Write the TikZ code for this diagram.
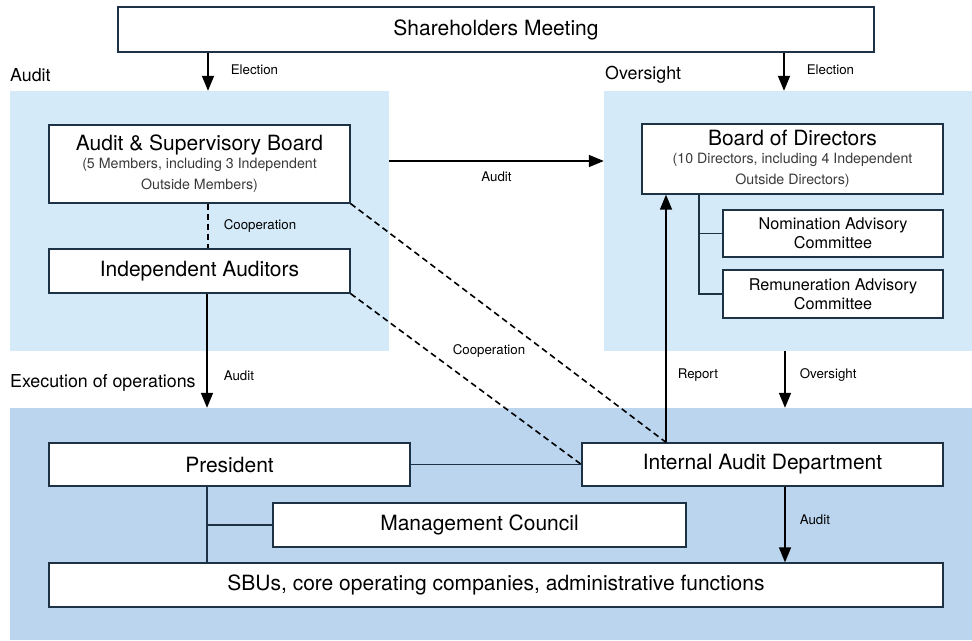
\documentclass[tikz,border=0pt]{standalone}
\usepackage{fontspec}
\setmainfont{TeX Gyre Heros}
\usepackage{xcolor}
\usetikzlibrary{arrows.meta}
\definecolor{auditblue}{HTML}{D4EAF8}
\definecolor{execblue}{HTML}{BBD5EF}
\definecolor{boxline}{HTML}{1E3246}
\definecolor{subgray}{HTML}{3A3A3A}
\newcommand{\subline}[1]{{\fontsize{14.2}{18}\selectfont\color{subgray}#1}}
\tikzset{
  zone/.style={inner sep=0pt, draw=none},
  orgbox/.style={draw=boxline, line width=1.3pt, fill=white, inner sep=0pt,
    align=center, font=\fontsize{21}{21}\selectfont},
  smallbox/.style={orgbox, font=\fontsize{16.2}{19}\selectfont},
  flow/.style={line width=1.6pt, -{Triangle[length=15pt,width=12pt]}},
  link/.style={line width=1.4pt, draw=boxline},
  coop/.style={line width=1.6pt, dash pattern=on 6pt off 4pt},
  tag/.style={font=\fontsize{13.3}{15}\selectfont, inner sep=0pt},
  area/.style={font=\fontsize{17.8}{20}\selectfont, inner sep=0pt, anchor=west},
}

\begin{document}
\begin{tikzpicture}[x=1pt,y=-1pt]
\useasboundingbox (0,0) rectangle (972,640);
% shaded areas
\node[zone, fill=auditblue, minimum width=379pt, minimum height=260pt] (auditzone) at (199.5,221) {};
\node[zone, fill=auditblue, minimum width=368pt, minimum height=260pt] (oversightzone) at (788,221) {};
\node[zone, fill=execblue, minimum width=962pt, minimum height=232pt] (execzone) at (491,524) {};
\node[area] (audittitle) at (10,75) {Audit};
\node[area] (oversighttitle) at (605,75) {Oversight};
\node[area] (exectitle) at (10,383) {Execution of operations};

% boxes
\node[orgbox, minimum width=756pt, minimum height=45pt] (meeting) at (496,29.5) {Shareholders Meeting};
\node[orgbox, minimum width=301pt, minimum height=78pt] (asb) at (199.5,164)
  {Audit \& Supervisory Board\\[-3pt]\subline{(5 Members, including 3 Independent}\\\subline{Outside Members)}};
\node[orgbox, minimum width=301pt, minimum height=44pt] (ia) at (199.5,271) {Independent Auditors};
\node[orgbox, minimum width=301pt, minimum height=70pt] (bod) at (792.5,159)
  {Board of Directors\\[-3pt]\subline{(10 Directors, including 4 Independent}\\\subline{Outside Directors)}};
\node[smallbox, minimum width=220pt, minimum height=47pt] (nom) at (833,233.5) {Nomination Advisory\\Committee};
\node[smallbox, minimum width=220pt, minimum height=48pt] (rem) at (833,294) {Remuneration Advisory\\Committee};
\node[orgbox, minimum width=361pt, minimum height=43pt] (president) at (229.5,464.5) {President};
\node[orgbox, minimum width=361pt, minimum height=43pt] (iad) at (762.5,464.5) {Internal Audit Department};
\node[orgbox, minimum width=413pt, minimum height=44pt] (council) at (479.5,525) {Management Council};
\node[orgbox, minimum width=894pt, minimum height=44pt] (sbu) at (496,585) {SBUs, core operating companies, administrative functions};

% x positions of the vertical connectors
\coordinate (leftfeed) at (208,0);
\coordinate (rightfeed) at (784,0);
\coordinate (iadown) at (207,0);
\coordinate (report) at (666,0);
\coordinate (oversee) at (785,0);
\coordinate (bodtrunk) at (699,0);
\coordinate (auditlink) at (0,161);

% connectors
\draw[flow] (meeting.south -| leftfeed) -- (auditzone.north -| leftfeed)
  node[tag, pos=0.46, right=22pt] {Election};
\draw[flow] (meeting.south -| rightfeed) -- (oversightzone.north -| rightfeed)
  node[tag, pos=0.46, right=22pt] {Election};
\draw[flow] (auditzone.east |- auditlink) -- (oversightzone.west |- auditlink)
  node[tag, midway, below=10pt] {Audit};
\draw[coop] (asb.south -| leftfeed) -- (ia.north -| leftfeed)
  node[tag, midway, right=15pt] {Cooperation};
\draw[flow] (ia.south -| iadown) -- (execzone.north -| iadown)
  node[tag, pos=0.72, right=16pt] {Audit};
\draw[coop] (asb.south east) -- (iad.north -| report);
\draw[coop] (ia.south east) -- (iad.west);
\node[tag] (cooptag) at (489,351) {Cooperation};
\draw[flow] (iad.north -| report) -- (bod.south -| report)
  node[tag, pos=0.27, right=11pt] {Report};
\draw[flow] (oversightzone.south -| oversee) -- (execzone.north -| oversee)
  node[tag, pos=0.42, right=14pt] {Oversight};
\draw[flow] (iad.south -| oversee) -- (sbu.north -| oversee)
  node[tag, pos=0.44, right=14pt] {Audit};
\draw[link] (bod.south -| bodtrunk) |- (rem.west);
\draw[link] (bodtrunk |- nom.west) -- (nom.west);
\draw[link] (president.east) -- (iad.west);
\draw[link] (president.south -| iadown) -- (sbu.north -| iadown);
\draw[link] (iadown |- council.west) -- (council.west);
\end{tikzpicture}
\end{document}
